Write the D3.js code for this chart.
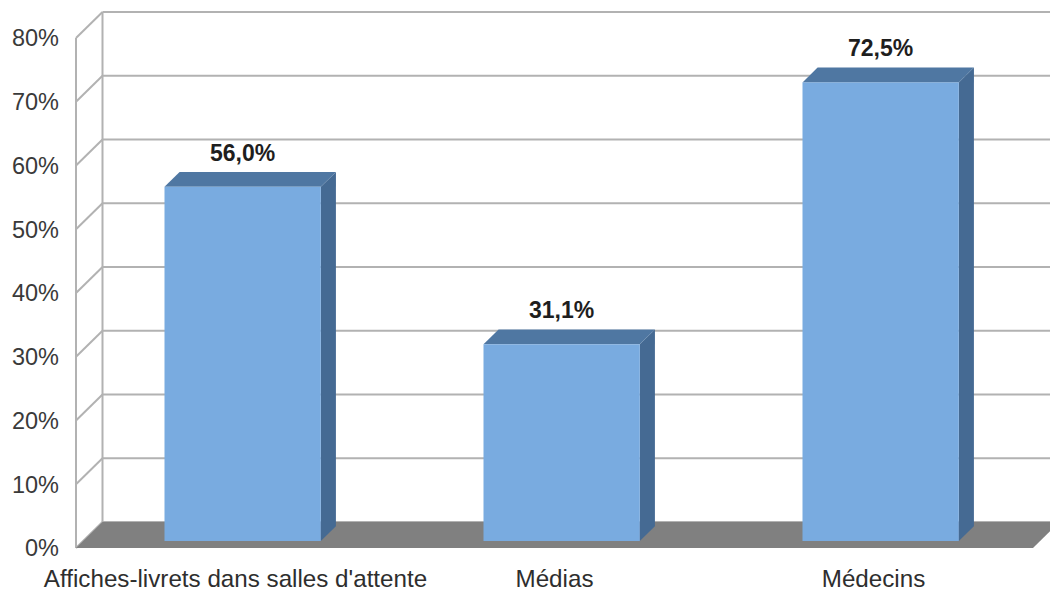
<!DOCTYPE html>
<html><head><meta charset="utf-8">
<script src="https://cdn.jsdelivr.net/npm/d3@7"></script>
<style>html,body{margin:0;padding:0;background:#fff;}svg{display:block;}</style>
</head><body>
<script>
const categories = ["Affiches-livrets dans salles d'attente", "Médias", "Médecins"];
const values = [56.0, 31.1, 72.5];
const valueLabels = ["56,0%", "31,1%", "72,5%"];
const tickValues = [0, 10, 20, 30, 40, 50, 60, 70, 80];
const tickLabels = ["0%", "10%", "20%", "30%", "40%", "50%", "60%", "70%", "80%"];

const W = 1050, H = 594;
const DX = 26.5, DY = 26; // full depth offset
const zF = 0.27, zB = 0.84; // bar depth range

const svg = d3.select("body").append("svg").attr("width", W).attr("height", H);

const x = d3.scaleBand().domain(categories).range([76, 1033]).paddingInner(0.51).paddingOuter(0.255);
const xOuter = d3.scaleBand().domain(categories).range([76, 1033]);
const y = d3.scaleLinear().domain([0, 80]).range([548, 38]);
const yBar = d3.scaleLinear().domain([0, 80]).range([548, 42]);

const P = (xf, v, z, s) => [xf + z * DX, (s || y)(v) - z * DY];
const poly = pts => pts.map(p => p.join(",")).join(" ");

const font = "'Liberation Sans', Arial, sans-serif";

// back-wall gridlines and left wall
const grid = svg.append("g").attr("stroke", "#b2b2b2").attr("stroke-width", 2).attr("fill", "none");
tickValues.forEach(v => {
  const b = P(76, v, 1);
  grid.append("line").attr("x1", b[0]).attr("y1", b[1]).attr("x2", W + 10).attr("y2", b[1]);
  const f = P(76, v, 0);
  grid.append("line").attr("x1", f[0]).attr("y1", f[1]).attr("x2", b[0]).attr("y2", b[1]);
});
{
  const b0 = P(76, 0, 1), b1 = P(76, 80, 1), f0 = P(76, 0, 0), f1 = P(76, 80, 0);
  grid.append("line").attr("x1", b0[0]).attr("y1", b0[1]).attr("x2", b1[0]).attr("y2", b1[1]);
  grid.append("line").attr("x1", f0[0]).attr("y1", f0[1]).attr("x2", f1[0]).attr("y2", f1[1]);
}

// floor
svg.append("polygon")
  .attr("points", poly([P(76, 0, 0), P(76, 0, 1), P(1033, 0, 1), P(1033, 0, 0)]))
  .attr("fill", "#808080");

// y tick labels
svg.append("g").selectAll("text").data(tickValues).join("text")
  .attr("x", 59).attr("y", d => y(d)).attr("dy", "0.36em")
  .attr("text-anchor", "end").attr("font-family", font).attr("font-size", 23.5)
  .attr("fill", "#3a3a3a").text((d, i) => tickLabels[i]);

// bars
const bars = svg.append("g");
categories.forEach((c, i) => {
  const x0 = x(c), x1 = x(c) + x.bandwidth(), v = values[i];
  const g = bars.append("g");
  g.append("polygon").attr("points", poly([P(x1, 0, zF, yBar), P(x1, 0, zB, yBar), P(x1, v, zB, yBar), P(x1, v, zF, yBar)]))
    .attr("fill", "#456a93");
  g.append("polygon").attr("points", poly([P(x0, v, zF, yBar), P(x0, v, zB, yBar), P(x1, v, zB, yBar), P(x1, v, zF, yBar)]))
    .attr("fill", "#4f77a2");
  const f0 = P(x0, v, zF, yBar), f1 = P(x1, 0, zF, yBar);
  g.append("rect").attr("x", f0[0]).attr("y", f0[1]).attr("width", f1[0] - f0[0]).attr("height", f1[1] - f0[1])
    .attr("fill", "#79abe0");
  g.append("text").attr("x", (f0[0] + f1[0]) / 2).attr("y", f0[1] - 26)
    .attr("text-anchor", "middle").attr("font-family", font).attr("font-weight", "bold")
    .attr("font-size", 23).attr("fill", "#1e1e1e").text(valueLabels[i]);
});

// category labels
svg.append("g").selectAll("text").data(categories).join("text")
  .attr("x", d => xOuter(d) + xOuter.bandwidth() / 2).attr("y", 587)
  .attr("text-anchor", "middle").attr("font-family", font).attr("font-size", 24.2)
  .attr("fill", "#2e2e2e").text(d => d);
</script>
</body></html>
